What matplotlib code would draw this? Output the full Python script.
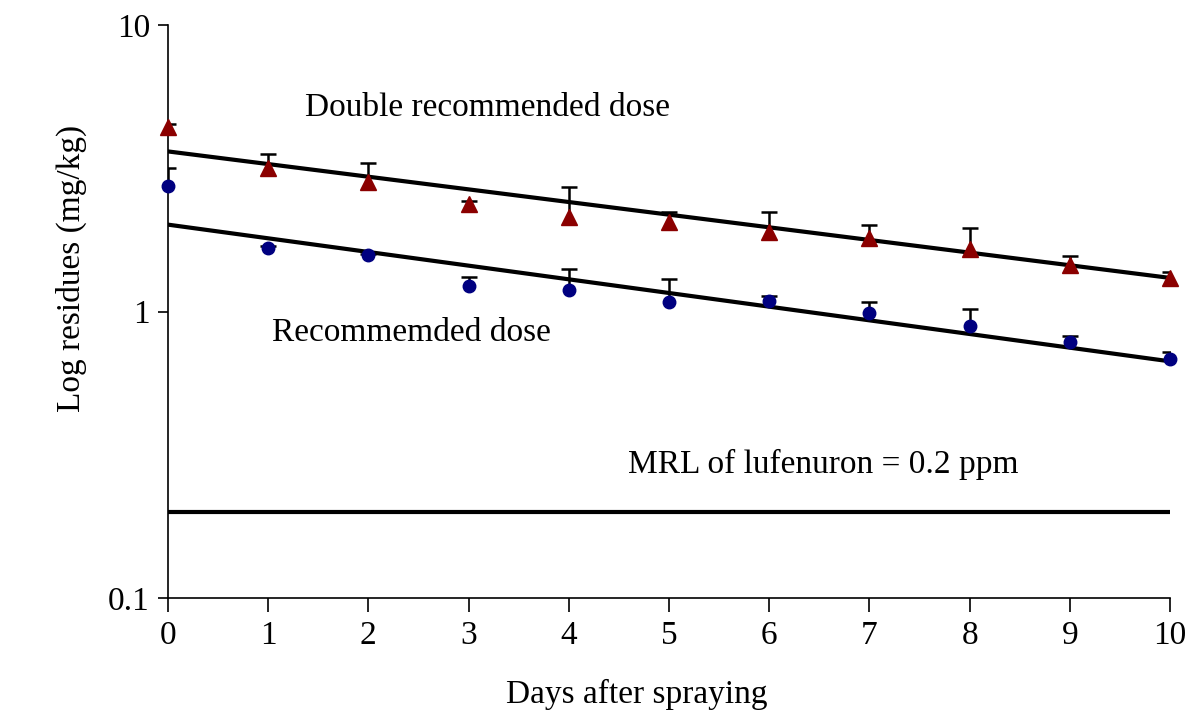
import matplotlib.pyplot as plt

plt.rcParams['font.family'] = ['Liberation Serif', 'DejaVu Serif']

days = [0, 1, 2, 3, 4, 5, 6, 7, 8, 9, 10]

# double recommended dose (mg/kg) and upper error
double_dose = [4.42, 3.18, 2.84, 2.38, 2.13, 2.05, 1.90, 1.81, 1.65, 1.45, 1.31]
double_err = [0.10, 0.38, 0.45, 0.06, 0.58, 0.17, 0.32, 0.19, 0.30, 0.11, 0.06]

# recommended dose
rec_dose = [2.75, 1.66, 1.57, 1.23, 1.19, 1.08, 1.09, 0.99, 0.89, 0.78, 0.68]
rec_err = [0.43, 0.03, 0.02, 0.09, 0.22, 0.22, 0.04, 0.09, 0.13, 0.04, 0.045]

# fitted decay lines (end points)
fit_days = [0, 10]
double_fit = [3.62, 1.31]
rec_fit = [2.01, 0.67]

mrl = 0.2

fig = plt.figure(figsize=(11.93, 7.22), dpi=100)
ax = fig.add_axes([0.1408, 0.1717, 0.8399, 0.7937])

ax.plot(fit_days, double_fit, color='black', lw=3.0, zorder=2)
ax.plot(fit_days, rec_fit, color='black', lw=3.0, zorder=2)
ax.plot(fit_days, [mrl, mrl], color='black', lw=3.0, zorder=2)

zeros = [0] * len(days)
for vals, errs in [(double_dose, double_err), (rec_dose, rec_err)]:
    eb = ax.errorbar(days, vals, yerr=[zeros, errs], fmt='none',
                     ecolor='black', elinewidth=1.8, capsize=6,
                     capthick=1.8, zorder=3)
    # only the upper cap is drawn
    eb[1][0].set_visible(False)

ax.plot(days, double_dose, '^', color='#8b0000', ms=11, ls='none',
        clip_on=False, zorder=4)
ax.plot(days, rec_dose, 'o', color='#000080', ms=9, ls='none',
        clip_on=False, zorder=4)

ax.set_yscale('log')
ax.set_ylim(0.1, 10)
ax.set_xlim(0, 10)
ax.set_xticks(days)
ax.set_yticks([0.1, 1, 10])
ax.set_yticklabels(['0.1', '1', '10'])
ax.minorticks_off()
ax.tick_params(axis='y', labelsize=24, length=7, width=1.2, pad=6)
ax.tick_params(axis='x', labelsize=24, length=10, width=1.2, pad=6)

for s in ['top', 'right']:
    ax.spines[s].set_visible(False)
for s in ['left', 'bottom']:
    ax.spines[s].set_linewidth(1.2)

ax.set_xlabel('Days after spraying', fontsize=24)
ax.set_ylabel('Log residues (mg/kg)', fontsize=24)
ax.xaxis.set_label_coords(0.468, -0.169)
ax.xaxis.label.set_va('center')
ax.yaxis.set_label_coords(-0.096, 0.576)
ax.yaxis.label.set_va('center')

ax.text(1.37, 5.15, 'Double recommended dose', fontsize=24, va='center')
ax.text(1.04, 0.845, 'Recommemded dose', fontsize=24, va='center')
ax.text(4.59, 0.292, 'MRL of lufenuron = 0.2 ppm', fontsize=24, va='center')

fig.savefig('out.png', dpi=100)
